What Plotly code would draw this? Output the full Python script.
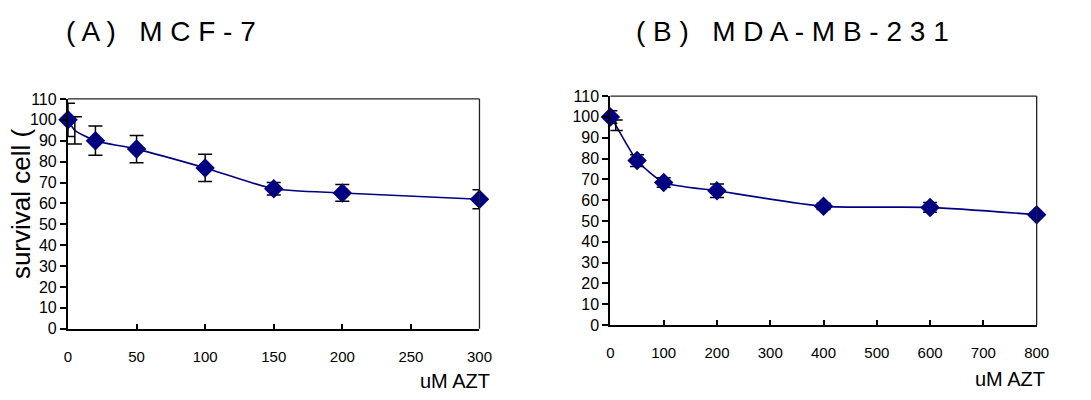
import plotly.graph_objects as go

# (A) MCF-7
azt_a = [0, 20, 50, 100, 150, 200, 300]
surv_a = [100, 90, 86, 77, 67, 65, 62]
err_a = [8, 7, 6.5, 6.5, 3, 4, 4.5]
# extra low-dose replicate (no marker)
azt_a_extra = [5]
surv_a_extra = [95]
err_a_extra = [6.5]

# (B) MDA-MB-231
azt_b = [0, 50, 100, 200, 400, 600, 800]
surv_b = [100, 79, 68.5, 64.5, 57, 56.5, 53]
err_b = [3, 2.8, 2.3, 3.2, 1.5, 2.3, 1]
azt_b_extra = [10]
surv_b_extra = [96]
err_b_extra = [2.5]

y_ticks = list(range(0, 111, 10))
x_ticks_a = list(range(0, 301, 50))
x_ticks_b = list(range(0, 801, 100))

NAVY = "#000080"
FONT = "Liberation Sans, Arial, sans-serif"
NARROW = "Liberation Sans Narrow, Arial Narrow, Liberation Sans, sans-serif"

fig = go.Figure()


def add_panel(xs, ys, es, xe, ye, ee, xref, yref):
    # combined curve through all measured points
    pts = sorted(zip(list(xs) + list(xe), list(ys) + list(ye)))
    fig.add_trace(go.Scatter(
        x=[p[0] for p in pts], y=[p[1] for p in pts], mode="lines",
        line=dict(color=NAVY, width=1.6, shape="spline", smoothing=0.6),
        xaxis=xref, yaxis=yref, showlegend=False, hoverinfo="skip"))
    fig.add_trace(go.Scatter(
        x=xe, y=ye, mode="markers", marker=dict(size=1, color="rgba(0,0,0,0)"),
        error_y=dict(type="data", array=ee, color="black", thickness=1.5, width=7),
        xaxis=xref, yaxis=yref, showlegend=False, cliponaxis=False))
    fig.add_trace(go.Scatter(
        x=xs, y=ys, mode="markers",
        marker=dict(symbol="diamond", size=15, color=NAVY),
        error_y=dict(type="data", array=es, color="black", thickness=1.5, width=7),
        xaxis=xref, yaxis=yref, showlegend=False, cliponaxis=False))


add_panel(azt_a, surv_a, err_a, azt_a_extra, surv_a_extra, err_a_extra, "x", "y")
add_panel(azt_b, surv_b, err_b, azt_b_extra, surv_b_extra, err_b_extra, "x2", "y2")

xa_dom = [65 / 1091, 483 / 1091]
ya_dom = [1 - 335 / 400, 1 - 95 / 400]
xb_dom = [616 / 1091, 1049 / 1091]
yb_dom = [1 - 331 / 400, 1 - 92 / 400]

line_common = dict(showgrid=False, zeroline=False, showline=True, linecolor="black",
                   linewidth=2.2, tickcolor="black", tickwidth=1.5)
x_common = dict(ticks="inside", ticklen=5, ticklabelstandoff=13,
                tickfont=dict(family=FONT, size=15, color="black"), **line_common)
y_common = dict(ticks="outside", ticklen=6,
                tickfont=dict(family=FONT, size=16, color="black"), **line_common)

fig.update_layout(
    width=1091, height=400, margin=dict(l=0, r=0, t=0, b=0),
    paper_bgcolor="white", plot_bgcolor="white",
    xaxis=dict(domain=xa_dom, range=[0, 300], tickvals=x_ticks_a, anchor="y", **x_common),
    yaxis=dict(domain=ya_dom, range=[0, 110], tickvals=y_ticks, anchor="x", **y_common),
    xaxis2=dict(domain=xb_dom, range=[0, 800], tickvals=x_ticks_b, anchor="y2", **x_common),
    yaxis2=dict(domain=yb_dom, range=[0, 110], tickvals=y_ticks, anchor="x2", **y_common),
)

# thin top/right frame lines
for xd, yd in ((xa_dom, ya_dom), (xb_dom, yb_dom)):
    fig.add_shape(type="line", xref="paper", yref="paper", x0=xd[0], x1=xd[1],
                  y0=yd[1], y1=yd[1], line=dict(color="#222", width=1.3))
    fig.add_shape(type="line", xref="paper", yref="paper", x0=xd[1], x1=xd[1],
                  y0=yd[0], y1=yd[1], line=dict(color="#222", width=1.3))

title_font = dict(family=NARROW, size=28, color="black")
fig.add_annotation(text="( A )   M C F - 7", xref="paper", yref="paper",
                   x=61 / 1091, y=1 - 25 / 400, xanchor="left", yanchor="middle",
                   showarrow=False, font=title_font)
fig.add_annotation(text="( B )   M D A - M B - 2 3 1", xref="paper", yref="paper",
                   x=640 / 1091, y=1 - 25 / 400, xanchor="left", yanchor="middle",
                   showarrow=False, font=title_font)

fig.add_annotation(text="survival cell (", xref="paper", yref="paper",
                   x=18 / 1091, y=1 - 285 / 400, xanchor="center", yanchor="bottom",
                   textangle=-90, showarrow=False,
                   font=dict(family=FONT, size=26, color="black"))

axis_title_font = dict(family=FONT, size=20, color="black")
fig.add_annotation(text="uM AZT", xref="paper", yref="paper",
                   x=458 / 1091, y=1 - 390 / 400, xanchor="center", yanchor="middle",
                   showarrow=False, font=axis_title_font)
fig.add_annotation(text="uM AZT", xref="paper", yref="paper",
                   x=1022 / 1091, y=1 - 387 / 400, xanchor="center", yanchor="middle",
                   showarrow=False, font=axis_title_font)

fig.write_html("out.html")
